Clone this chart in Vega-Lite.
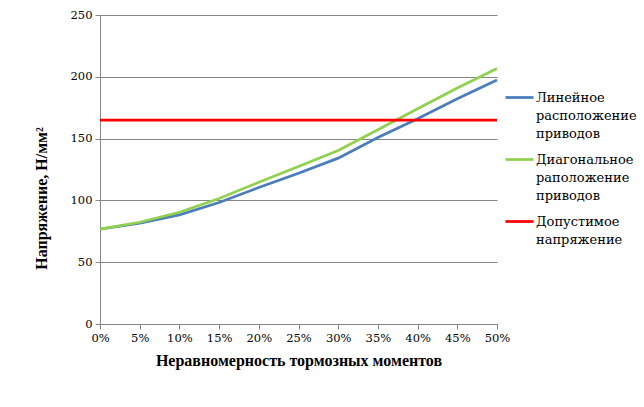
{
  "$schema": "https://vega.github.io/schema/vega-lite/v6.json",
  "width": 397,
  "height": 309,
  "autosize": "none",
  "padding": {"left": 100, "top": 15, "right": 147, "bottom": 83},
  "background": "white",
  "config": {
    "view": {"stroke": null},
    "font": "DejaVu Serif",
    "style": {"guide-label": {"lineHeight": 18}},
    "axis": {
      "domainColor": "#868686",
      "tickColor": "#868686",
      "gridColor": "#868686",
      "labelColor": "black",
      "titleColor": "black",
      "labelFont": "DejaVu Serif",
      "titleFont": "Times New Roman",
      "labelFontSize": 11.5,
      "titleFontSize": 16,
      "titleFontWeight": "bold",
      "tickSize": 5
    }
  },
  "data": {
    "values": [
      {"x": 0.00, "s": "Линейное расположение приводов", "y": 76.7},
      {"x": 0.05, "s": "Линейное расположение приводов", "y": 81.5},
      {"x": 0.10, "s": "Линейное расположение приводов", "y": 88.3},
      {"x": 0.15, "s": "Линейное расположение приводов", "y": 98.3},
      {"x": 0.20, "s": "Линейное расположение приводов", "y": 110.4},
      {"x": 0.25, "s": "Линейное расположение приводов", "y": 122.0},
      {"x": 0.30, "s": "Линейное расположение приводов", "y": 134.2},
      {"x": 0.35, "s": "Линейное расположение приводов", "y": 150.9},
      {"x": 0.40, "s": "Линейное расположение приводов", "y": 166.0},
      {"x": 0.45, "s": "Линейное расположение приводов", "y": 182.2},
      {"x": 0.50, "s": "Линейное расположение приводов", "y": 197.4},
      {"x": 0.00, "s": "Диагональное раположение приводов", "y": 76.7},
      {"x": 0.05, "s": "Диагональное раположение приводов", "y": 82.3},
      {"x": 0.10, "s": "Диагональное раположение приводов", "y": 90.4},
      {"x": 0.15, "s": "Диагональное раположение приводов", "y": 101.5},
      {"x": 0.20, "s": "Диагональное раположение приводов", "y": 114.7},
      {"x": 0.25, "s": "Диагональное раположение приводов", "y": 127.4},
      {"x": 0.30, "s": "Диагональное раположение приводов", "y": 140.4},
      {"x": 0.35, "s": "Диагональное раположение приводов", "y": 157.1},
      {"x": 0.40, "s": "Диагональное раположение приводов", "y": 174.1},
      {"x": 0.45, "s": "Диагональное раположение приводов", "y": 190.9},
      {"x": 0.50, "s": "Диагональное раположение приводов", "y": 206.8},
      {"x": 0.00, "s": "Допустимое напряжение", "y": 165},
      {"x": 0.05, "s": "Допустимое напряжение", "y": 165},
      {"x": 0.10, "s": "Допустимое напряжение", "y": 165},
      {"x": 0.15, "s": "Допустимое напряжение", "y": 165},
      {"x": 0.20, "s": "Допустимое напряжение", "y": 165},
      {"x": 0.25, "s": "Допустимое напряжение", "y": 165},
      {"x": 0.30, "s": "Допустимое напряжение", "y": 165},
      {"x": 0.35, "s": "Допустимое напряжение", "y": 165},
      {"x": 0.40, "s": "Допустимое напряжение", "y": 165},
      {"x": 0.45, "s": "Допустимое напряжение", "y": 165},
      {"x": 0.50, "s": "Допустимое напряжение", "y": 165}
    ]
  },
  "mark": {"type": "line", "strokeWidth": 2.75},
  "encoding": {
    "x": {
      "field": "x",
      "type": "quantitative",
      "scale": {"domain": [0, 0.5], "nice": false},
      "axis": {
        "values": [0, 0.05, 0.1, 0.15, 0.2, 0.25, 0.3, 0.35, 0.4, 0.45, 0.5],
        "format": ".0%",
        "grid": false,
        "labelPadding": 3,
        "labelFlush": false,
        "title": "Неравномерность тормозных моментов",
        "titlePadding": 9
      }
    },
    "y": {
      "field": "y",
      "type": "quantitative",
      "scale": {"domain": [0, 250], "nice": false},
      "axis": {
        "values": [0, 50, 100, 150, 200, 250],
        "grid": true,
        "labelPadding": 3,
        "title": "Напряжение, Н/мм²",
        "titleY": 183,
        "titlePadding": 21
      }
    },
    "color": {
      "field": "s",
      "type": "nominal",
      "scale": {
        "domain": ["Линейное расположение приводов", "Диагональное раположение приводов", "Допустимое напряжение"],
        "range": ["#4A7EBB", "#92D050", "#FF0000"]
      },
      "legend": {
        "title": null,
        "orient": "none",
        "legendX": 404,
        "legendY": 67,
        "symbolType": "stroke",
        "symbolSize": 784,
        "symbolStrokeWidth": 2.75,
        "labelExpr": "split(datum.label, ' ')",
        "labelFont": "DejaVu Serif",
        "labelFontSize": 13,
        "labelColor": "black",
        "labelLimit": 200,
        "labelOffset": 1,
        "rowPadding": 3,
        "encoding": {"labels": {"update": {"lineHeight": {"value": 18}}}}
      }
    }
  }
}
